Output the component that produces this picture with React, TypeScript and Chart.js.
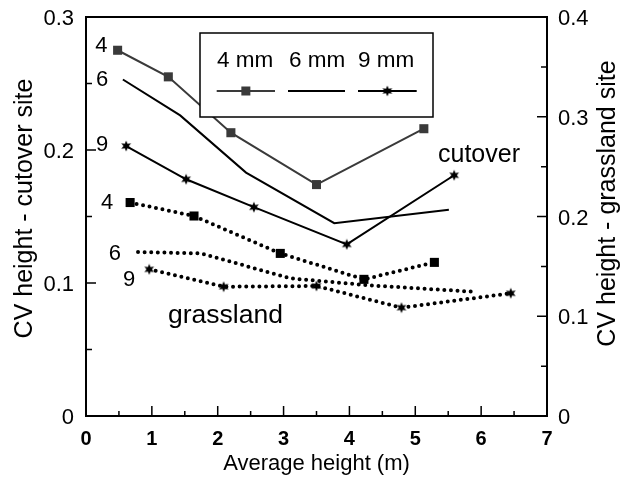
import React, { useEffect, useRef } from 'react';
import { Chart, registerables } from 'chart.js';

Chart.register(...registerables);

const FONT = "'Liberation Sans', Arial, Helvetica, sans-serif";

// Axis ticks
const xTicks = [0, 1, 2, 3, 4, 5, 6, 7];
const leftTicks = [0, 0.1, 0.2, 0.3];
const rightTicks = [0, 0.1, 0.2, 0.3, 0.4];

// Cutover site (left axis)
const cut4X = [0.48, 1.25, 2.2, 3.5, 5.13];
const cut4Y = [0.275, 0.255, 0.213, 0.174, 0.216];
const cut6X = [0.56, 1.43, 2.43, 3.77, 5.51];
const cut6Y = [0.253, 0.226, 0.183, 0.145, 0.155];
const cut9X = [0.61, 1.52, 2.55, 3.96, 5.59];
const cut9Y = [0.203, 0.178, 0.157, 0.129, 0.181];

// Grassland site (right axis)
const grs4X = [0.67, 1.64, 2.95, 4.22, 5.29];
const grs4Y = [0.214, 0.2005, 0.163, 0.137, 0.154];
const grs6X = [0.79, 1.75, 3.1, 4.3, 5.88];
const grs6Y = [0.1644, 0.163, 0.138, 0.131, 0.1246];
const grs9X = [0.96, 2.09, 3.5, 4.79, 6.45];
const grs9Y = [0.147, 0.1296, 0.1303, 0.1086, 0.123];

const legendLabels = ['4 mm', '6 mm', '9 mm'];
const xTitle = 'Average height (m)';
const leftTitle = 'CV height - cutover site';
const rightTitle = 'CV height - grassland site';

// Text annotations placed in data coordinates (x, left-axis y)
const annoText = ['4', '6', '9', '4', '6', '9'];
const annoX = [0.235, 0.243, 0.243, 0.319, 0.44, 0.653];
const annoY = [0.278, 0.253, 0.204, 0.16, 0.1218, 0.102];
const siteText = ['cutover', 'grassland'];
const siteX = [5.967, 2.118];
const siteY = [0.191, 0.0699];

const pts = (xs: number[], ys: number[]) => xs.map((x, i) => ({ x, y: ys[i] }));

function makeStar(): HTMLCanvasElement {
  const c = document.createElement('canvas');
  c.width = 12;
  c.height = 12;
  const ctx = c.getContext('2d')!;
  ctx.fillStyle = '#000';
  ctx.beginPath();
  for (let i = 0; i < 12; i++) {
    const r = i % 2 === 0 ? 5.6 : 2.7;
    const a = -Math.PI / 2 + (i * Math.PI) / 6;
    const px = 6 + r * Math.cos(a);
    const py = 6 + r * Math.sin(a);
    if (i === 0) ctx.moveTo(px, py);
    else ctx.lineTo(px, py);
  }
  ctx.closePath();
  ctx.fill();
  return c;
}

const zeroPad = (s: any) => {
  s.paddingTop = 0;
  s.paddingBottom = 0;
  s.paddingLeft = 0;
  s.paddingRight = 0;
};

export default function App() {
  const ref = useRef<HTMLCanvasElement | null>(null);

  useEffect(() => {
    if (!ref.current) return;
    const star = makeStar();
    const gray = '#3a3a3a';

    const dotted = {
      borderColor: '#000',
      borderWidth: 4,
      borderDash: [0, 6.6],
      borderCapStyle: 'round' as const,
    };

    const decor = {
      id: 'decor',
      afterDraw(chart: any) {
        const ctx = chart.ctx as CanvasRenderingContext2D;
        const ca = chart.chartArea;
        const xs = chart.scales.x;
        const yl = chart.scales.y;
        const yr = chart.scales.y2;
        ctx.save();
        ctx.strokeStyle = '#000';
        ctx.fillStyle = '#000';
        // frame
        ctx.lineWidth = 2;
        ctx.strokeRect(ca.left, ca.top, ca.right - ca.left, ca.bottom - ca.top);
        // ticks
        ctx.lineWidth = 1.5;
        ctx.beginPath();
        for (let i = 0; i <= 14; i++) {
          const v = i * 0.5;
          const px = xs.getPixelForValue(v);
          const len = i % 2 === 0 ? 10 : 5;
          ctx.moveTo(px, ca.bottom);
          ctx.lineTo(px, ca.bottom - len);
        }
        for (let i = 0; i <= 6; i++) {
          const py = yl.getPixelForValue(i * 0.05);
          const len = i % 2 === 0 ? 10 : 6;
          ctx.moveTo(ca.left, py);
          ctx.lineTo(ca.left + len, py);
        }
        for (let i = 0; i <= 8; i++) {
          const py = yr.getPixelForValue(i * 0.05);
          const len = i % 2 === 0 ? 10 : 6;
          ctx.moveTo(ca.right, py);
          ctx.lineTo(ca.right - len, py);
        }
        ctx.stroke();

        // axis titles
        ctx.font = `22px ${FONT}`;
        ctx.textAlign = 'center';
        ctx.textBaseline = 'alphabetic';
        ctx.fillText(xTitle, (ca.left + ca.right) / 2, ca.bottom + 54);
        ctx.font = `25px ${FONT}`;
        ctx.textBaseline = 'middle';
        ctx.save();
        ctx.translate(ca.left - 61, (ca.top + ca.bottom) / 2 - 8);
        ctx.rotate(-Math.PI / 2);
        ctx.fillText(leftTitle, 0, 0);
        ctx.restore();
        ctx.save();
        ctx.translate(ca.right + 61, (ca.top + ca.bottom) / 2 - 13);
        ctx.rotate(-Math.PI / 2);
        ctx.fillText(rightTitle, 0, 0);
        ctx.restore();

        // annotations
        ctx.font = `22px ${FONT}`;
        ctx.textBaseline = 'middle';
        for (let i = 0; i < annoText.length; i++) {
          ctx.fillText(annoText[i], xs.getPixelForValue(annoX[i]), yl.getPixelForValue(annoY[i]));
        }
        ctx.textBaseline = 'alphabetic';
        ctx.font = `25px ${FONT}`;
        ctx.fillText(siteText[0], xs.getPixelForValue(siteX[0]), yl.getPixelForValue(siteY[0]));
        ctx.font = `26.5px ${FONT}`;
        ctx.fillText(siteText[1], xs.getPixelForValue(siteX[1]), yl.getPixelForValue(siteY[1]));

        // legend box
        const bx = ca.left + 114;
        const by = ca.top + 16;
        const bw = 233;
        const bh = 84;
        ctx.fillStyle = '#fff';
        ctx.fillRect(bx, by, bw, bh);
        ctx.lineWidth = 1.5;
        ctx.strokeRect(bx, by, bw, bh);
        ctx.fillStyle = '#000';
        ctx.font = `22.5px ${FONT}`;
        ctx.textBaseline = 'alphabetic';
        const centers = [45, 117, 186];
        const segs = [[16.7, 75], [88, 145], [158, 216.7]];
        const ly = by + 58;
        for (let i = 0; i < 3; i++) {
          ctx.fillText(legendLabels[i], bx + centers[i], by + 34);
          ctx.strokeStyle = i === 0 ? gray : '#000';
          ctx.lineWidth = 2;
          ctx.beginPath();
          ctx.moveTo(bx + segs[i][0], ly);
          ctx.lineTo(bx + segs[i][1], ly);
          ctx.stroke();
        }
        const mx0 = bx + (segs[0][0] + segs[0][1]) / 2;
        ctx.fillStyle = gray;
        ctx.fillRect(mx0 - 4.5, ly - 4.5, 9, 9);
        const mx2 = bx + (segs[2][0] + segs[2][1]) / 2;
        ctx.drawImage(star, mx2 - star.width / 2, ly - star.height / 2);
        ctx.restore();
      },
    };

    const tickFont = { family: FONT, size: 22 };

    const chart = new Chart(ref.current, {
      type: 'line',
      data: {
        datasets: [
          {
            data: pts(cut4X, cut4Y),
            yAxisID: 'y',
            borderColor: gray,
            borderWidth: 2,
            pointStyle: 'rect',
            pointRadius: 6.4,
            pointBackgroundColor: gray,
            pointBorderColor: gray,
            pointBorderWidth: 0,
          },
          {
            data: pts(cut6X, cut6Y),
            yAxisID: 'y',
            borderColor: '#000',
            borderWidth: 2,
            pointRadius: 0,
          },
          {
            data: pts(cut9X, cut9Y),
            yAxisID: 'y',
            borderColor: '#000',
            borderWidth: 2,
            pointStyle: star,
            pointRadius: 6,
          },
          {
            data: pts(grs4X, grs4Y),
            yAxisID: 'y2',
            ...dotted,
            pointStyle: 'rect',
            pointRadius: 6.4,
            pointBackgroundColor: '#000',
            pointBorderColor: '#000',
            pointBorderWidth: 0,
          },
          {
            data: pts(grs6X, grs6Y),
            yAxisID: 'y2',
            ...dotted,
            pointRadius: 0,
          },
          {
            data: pts(grs9X, grs9Y),
            yAxisID: 'y2',
            ...dotted,
            pointStyle: star,
            pointRadius: 6,
          },
        ],
      },
      options: {
        animation: false,
        responsive: false,
        maintainAspectRatio: false,
        layout: { padding: { top: 17, left: 0, right: 0, bottom: 0 } },
        plugins: { legend: { display: false }, tooltip: { enabled: false } },
        elements: { line: { tension: 0, fill: false } },
        scales: {
          x: {
            type: 'linear',
            min: 0,
            max: 7,
            afterBuildTicks: (s: any) => {
              s.ticks = xTicks.map((v) => ({ value: v }));
            },
            afterFit: (s: any) => {
              s.height = 62;
              zeroPad(s);
            },
            ticks: {
              font: { family: FONT, size: 20, weight: 'bold' },
              color: '#000',
              padding: 11,
              autoSkip: false,
              maxRotation: 0,
              callback: (v: any) => String(v),
            },
            grid: { display: false, drawTicks: false },
            border: { display: false },
          },
          y: {
            type: 'linear',
            position: 'left',
            min: 0,
            max: 0.3,
            afterBuildTicks: (s: any) => {
              s.ticks = leftTicks.map((v) => ({ value: v }));
            },
            afterFit: (s: any) => {
              s.width = 86;
              zeroPad(s);
            },
            ticks: {
              font: tickFont,
              color: '#000',
              padding: 12,
              labelOffset: 2,
              callback: (v: any) => (v === 0 ? '0' : Number(v).toFixed(1)),
            },
            grid: { display: false, drawTicks: false },
            border: { display: false },
          },
          y2: {
            type: 'linear',
            position: 'right',
            min: 0,
            max: 0.4,
            afterBuildTicks: (s: any) => {
              s.ticks = rightTicks.map((v) => ({ value: v }));
            },
            afterFit: (s: any) => {
              s.width = 79;
              zeroPad(s);
            },
            ticks: {
              font: tickFont,
              color: '#000',
              padding: 11,
              labelOffset: 2,
              callback: (v: any) => (v === 0 ? '0' : Number(v).toFixed(1)),
            },
            grid: { display: false, drawTicks: false },
            border: { display: false },
          },
        },
      } as any,
      plugins: [decor],
    });
    return () => chart.destroy();
  }, []);

  return (
    <div style={{ position: 'absolute', left: 0, top: 0, width: 626, height: 478, background: '#fff' }}>
      <canvas ref={ref} width={626} height={478} style={{ display: 'block', width: 626, height: 478 }} />
    </div>
  );
}
